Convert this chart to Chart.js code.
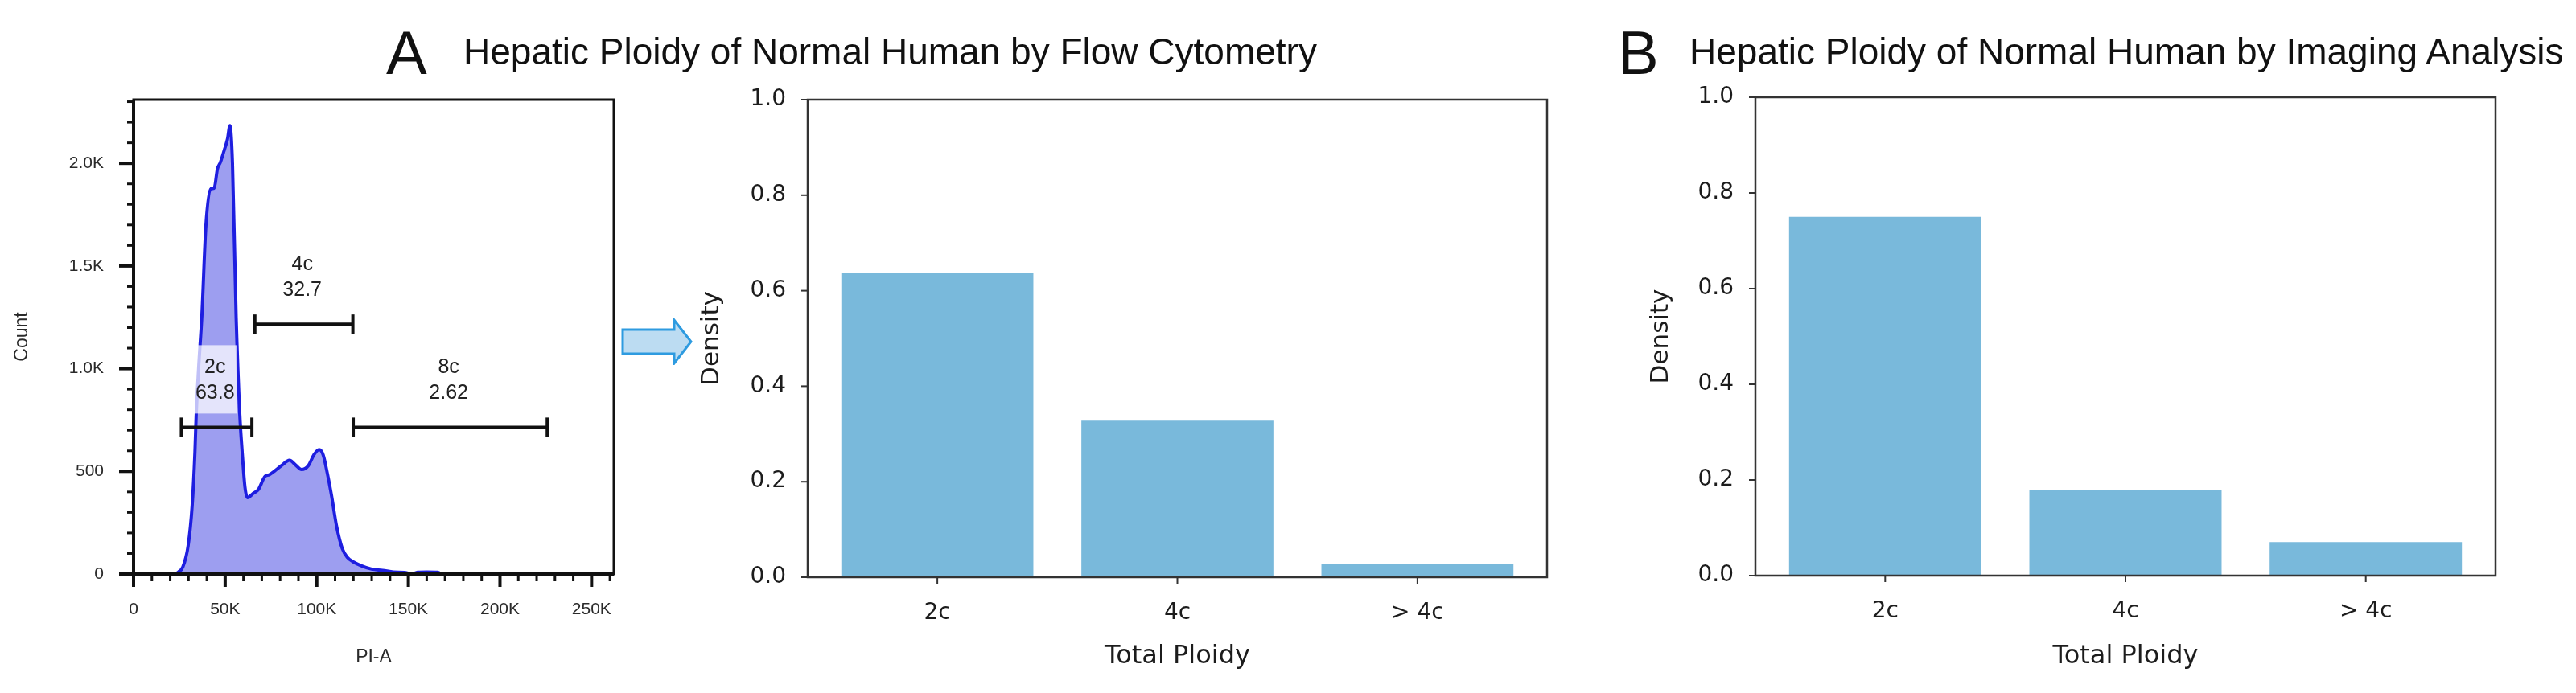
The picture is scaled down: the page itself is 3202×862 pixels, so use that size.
<!DOCTYPE html>
<html lang="en">
<head>
  <meta charset="UTF-8">
  <title>Hepatic Ploidy of Normal Human</title>
  <script src="https://cdn.jsdelivr.net/npm/chart.js"></script>
  <style>
    body {
      margin: 0;
      padding: 0;
      background: white;
    }
    #page {
      position: relative;
      width: 3202px;
      height: 862px;
      background: white;
      overflow: hidden;
    }
    canvas {
      position: absolute;
      top: 0;
    }
    .panel-letter, .panel-title {
      position: absolute;
      font-family: "Liberation Sans", Arial, sans-serif;
      color: #111;
      white-space: nowrap;
    }
    .panel-letter {
      font-size: 76px;
      line-height: 76px;
      top: 28px;
    }
    .panel-title {
      font-size: 46px;
      line-height: 46px;
      top: 41px;
    }
    #arrow {
      position: absolute;
      left: 772px;
      top: 396px;
    }
  </style>
</head>
<body>
  <div id="page">
    <canvas id="histChart" width="800" height="862" style="left:0px"></canvas>
    <canvas id="flowChart" width="1100" height="862" style="left:840px"></canvas>
    <canvas id="imagingChart" width="1182" height="862" style="left:2020px"></canvas>

    <div class="panel-letter" style="left:480px">A</div>
    <div class="panel-title" style="left:576px">Hepatic Ploidy of Normal Human by Flow Cytometry</div>
    <div class="panel-letter" style="left:2011px">B</div>
    <div class="panel-title" style="left:2100px">Hepatic Ploidy of Normal Human by Imaging Analysis</div>

    <!-- arrow from the histogram to the bar chart -->
    <svg id="arrow" width="90" height="58" viewBox="0 0 90 58">
      <polygon points="2,14 66,14 66,2 87,29 66,56 66,44 2,44"
               fill="#bcdcf2" stroke="#2e9be0" stroke-width="3" stroke-linejoin="miter"/>
    </svg>
  </div>

  <script>
    // PI-A histogram (FlowJo)
    const piArea = [0, 20000, 22400, 24500, 26900, 29800, 32000, 33500, 34200, 35500, 37300, 39500,
      42200, 44000, 45800, 47400, 49700, 51300, 52600, 54000, 56000, 58000, 59300, 60800, 62200,
      65200, 68100, 71800, 74000, 77000, 80700, 85100, 88800, 91700, 95400, 98400, 101300, 103500,
      105800, 108000, 110900, 113900, 116800, 119800, 124200, 130000, 136000, 141900, 147800,
      152200, 155000, 160000, 166000, 168500, 185000, 200000];
    const cellCount = [0, 0, 0, 10, 34, 138, 333, 593, 776, 1000, 1260, 1698,
      1876, 1879, 1973, 2005, 2070, 2119, 2184, 2000, 1250, 776, 593, 424, 372,
      392, 411, 476, 483, 502, 528, 554, 528, 509, 528, 580, 606, 580,
      489, 385, 229, 125, 80, 60, 41, 24, 18, 10, 8,
      0, 9, 10, 9, 0, 0, 0];

    // gates drawn on the histogram
    const gateNames = ['2c', '4c', '8c'];
    const gateFreq = ['63.8', '32.7', '2.62'];
    const gateStart = [26100, 66200, 119900];
    const gateEnd = [64600, 119700, 225800];
    const gateLevel = [715, 1217, 715];

    // histogram axes
    const histXMajor = [0, 50000, 100000, 150000, 200000, 250000];
    const histXLabels = ['0', '50K', '100K', '150K', '200K', '250K'];
    const histYMajor = [0, 500, 1000, 1500, 2000];
    const histYLabels = ['0', '500', '1.0K', '1.5K', '2.0K'];

    // density bar charts
    const ploidyClasses = ['2c', '4c', '> 4c'];
    const flowDensity = [0.638, 0.328, 0.027];
    const imagingDensity = [0.75, 0.18, 0.07];
    const densityTicks = [0, 0.2, 0.4, 0.6, 0.8, 1.0];

    const textColor = '#1c1c1c';

    // ---------- histogram ----------
    const flowAxes = {
      id: 'flowAxes',
      afterDatasetsDraw(chart) {
        const {ctx, chartArea: a, scales: {x, y}} = chart;
        ctx.save();

        // gate labels with their translucent boxes
        gateNames.forEach((name, i) => {
          const cx = x.getPixelForValue((gateStart[i] + gateEnd[i]) / 2) - 2;
          const ly = y.getPixelForValue(gateLevel[i]);
          ctx.fillStyle = 'rgba(255,255,255,0.72)';
          ctx.fillRect(cx - 27, ly - 102, 54, 85);
          ctx.fillStyle = '#222';
          ctx.font = '25px "Liberation Sans", Arial, sans-serif';
          ctx.textAlign = 'center';
          ctx.textBaseline = 'middle';
          ctx.fillText(name, cx, ly - 74);
          ctx.fillText(gateFreq[i], cx, ly - 42);
        });

        // tick marks, long for labelled ones
        ctx.strokeStyle = '#111';
        x.ticks.forEach(t => {
          const major = histXMajor.includes(t.value);
          const px = x.getPixelForValue(t.value);
          ctx.lineWidth = major ? 4 : 3;
          ctx.beginPath();
          ctx.moveTo(px, a.bottom);
          ctx.lineTo(px, a.bottom + (major ? 16 : 9));
          ctx.stroke();
        });
        y.ticks.forEach(t => {
          const major = histYMajor.includes(t.value);
          const py = y.getPixelForValue(t.value);
          ctx.lineWidth = major ? 4 : 3;
          ctx.beginPath();
          ctx.moveTo(a.left, py);
          ctx.lineTo(a.left - (major ? 18 : 8), py);
          ctx.stroke();
        });

        // box round the plot
        ctx.lineWidth = 3;
        ctx.strokeRect(a.left, a.top, a.right - a.left, a.bottom - a.top);
        ctx.lineWidth = 4;
        ctx.beginPath();
        ctx.moveTo(a.left, a.top);
        ctx.lineTo(a.left, a.bottom);
        ctx.lineTo(a.right, a.bottom);
        ctx.stroke();
        ctx.restore();
      }
    };

    const gateSets = gateNames.map((name, i) => ({
      label: name,
      data: [{x: gateStart[i], y: gateLevel[i]}, {x: gateEnd[i], y: gateLevel[i]}],
      borderColor: '#111',
      borderWidth: 4,
      fill: false,
      pointStyle: 'line',
      pointRadius: 12,
      pointRotation: 90,
      pointBorderWidth: 4,
      pointBorderColor: '#111'
    }));

    const histFont = {family: '"Liberation Sans", Arial, sans-serif', size: 21};

    new Chart(document.getElementById('histChart'), {
      type: 'line',
      data: {
        datasets: [
          ...gateSets,
          {
            label: 'PI-A',
            data: piArea.map((v, i) => ({x: v, y: cellCount[i]})),
            borderColor: '#1e1ee0',
            borderWidth: 4,
            backgroundColor: '#9d9ef0',
            fill: 'origin',
            pointRadius: 0,
            cubicInterpolationMode: 'monotone'
          }
        ]
      },
      options: {
        responsive: false,
        animation: false,
        devicePixelRatio: 1,
        layout: {padding: {top: 124, right: 37, left: 0, bottom: 0}},
        plugins: {legend: {display: false}, tooltip: {enabled: false}},
        scales: {
          x: {
            type: 'linear',
            min: 0,
            max: 262144,
            afterBuildTicks: axis => {
              axis.ticks = [];
              for (let v = 0; v <= 260000; v += 10000) axis.ticks.push({value: v});
            },
            afterFit: axis => { axis.height = 148; },
            grid: {display: false},
            border: {display: false},
            ticks: {
              autoSkip: false,
              maxRotation: 0,
              padding: 24,
              color: '#2a2a2a',
              font: histFont,
              callback: v => {
                const k = histXMajor.indexOf(v);
                return k >= 0 ? histXLabels[k] : '';
              }
            },
            title: {
              display: true,
              text: 'PI-A',
              color: '#2a2a2a',
              font: {family: histFont.family, size: 23},
              padding: {top: 0, bottom: 31}
            }
          },
          y: {
            min: 0,
            max: 2310,
            afterBuildTicks: axis => {
              axis.ticks = [];
              for (let v = 0; v <= 2300; v += 100) axis.ticks.push({value: v});
            },
            afterFit: axis => { axis.width = 166; },
            grid: {display: false},
            border: {display: false},
            ticks: {
              autoSkip: false,
              padding: 29,
              color: '#2a2a2a',
              font: histFont,
              callback: v => {
                const k = histYMajor.indexOf(v);
                return k >= 0 ? histYLabels[k] : '';
              }
            },
            title: {
              display: true,
              text: 'Count',
              color: '#2a2a2a',
              font: {family: histFont.family, size: 23},
              padding: {top: 14, bottom: 0}
            }
          }
        }
      },
      plugins: [flowAxes]
    });

    // ---------- density bar charts ----------
    // matplotlib-style spines plus outward tick marks at the scale ticks
    const spines = {
      id: 'spines',
      afterDatasetsDraw(chart) {
        const {ctx, chartArea: a, scales: {x, y}} = chart;
        ctx.save();
        ctx.strokeStyle = '#333';
        ctx.lineWidth = 2;
        x.ticks.forEach(t => {
          const px = x.getPixelForValue(t.value);
          ctx.beginPath();
          ctx.moveTo(px, a.bottom);
          ctx.lineTo(px, a.bottom + 8);
          ctx.stroke();
        });
        y.ticks.forEach(t => {
          const py = y.getPixelForValue(t.value);
          ctx.beginPath();
          ctx.moveTo(a.left, py);
          ctx.lineTo(a.left - 8, py);
          ctx.stroke();
        });
        ctx.lineWidth = 2.5;
        ctx.strokeRect(a.left, a.top, a.right - a.left, a.bottom - a.top);
        ctx.restore();
      }
    };

    const mplFont = '"DejaVu Sans", sans-serif';

    function densityChart(id, values, box) {
      return new Chart(document.getElementById(id), {
        type: 'bar',
        data: {
          datasets: [{
            label: 'Density',
            data: values.map((v, i) => ({x: i, y: v})),
            backgroundColor: '#79b9db',
            borderWidth: 0,
            categoryPercentage: 1.0,
            barPercentage: 0.8
          }]
        },
        options: {
          responsive: false,
          animation: false,
          devicePixelRatio: 1,
          layout: {padding: {top: box.top, right: box.right, left: 0, bottom: 0}},
          plugins: {legend: {display: false}, tooltip: {enabled: false}},
          scales: {
            x: {
              type: 'linear',
              offset: false,
              min: -0.54,
              max: 2.54,
              afterBuildTicks: axis => {
                axis.ticks = ploidyClasses.map((c, i) => ({value: i}));
              },
              afterFit: axis => { axis.height = box.xHeight; },
              grid: {display: false},
              border: {display: false},
              ticks: {
                autoSkip: false,
                maxRotation: 0,
                padding: 20,
                color: textColor,
                font: {family: mplFont, size: 28},
                callback: v => ploidyClasses[v]
              },
              title: {
                display: true,
                text: 'Total Ploidy',
                color: textColor,
                font: {family: mplFont, size: 32},
                padding: {top: 0, bottom: 26}
              }
            },
            y: {
              min: 0,
              max: 1,
              afterBuildTicks: axis => {
                axis.ticks = densityTicks.map(v => ({value: v}));
              },
              afterFit: axis => { axis.width = box.yWidth; },
              grid: {display: false},
              border: {display: false},
              ticks: {
                padding: 19,
                color: textColor,
                font: {family: mplFont, size: 28},
                callback: v => v.toFixed(1)
              },
              title: {
                display: true,
                text: 'Density',
                color: textColor,
                font: {family: mplFont, size: 31},
                padding: {top: 26, bottom: 0}
              }
            }
          }
        },
        plugins: [spines]
      });
    }

    // canvas at x=840: plot 1004..1923, 124..718
    densityChart('flowChart', flowDensity, {top: 124, right: 17, yWidth: 164, xHeight: 144});
    // canvas at x=2020: plot 2182..3102, 121..716
    densityChart('imagingChart', imagingDensity, {top: 121, right: 100, yWidth: 162, xHeight: 146});
  </script>
</body>
</html>
